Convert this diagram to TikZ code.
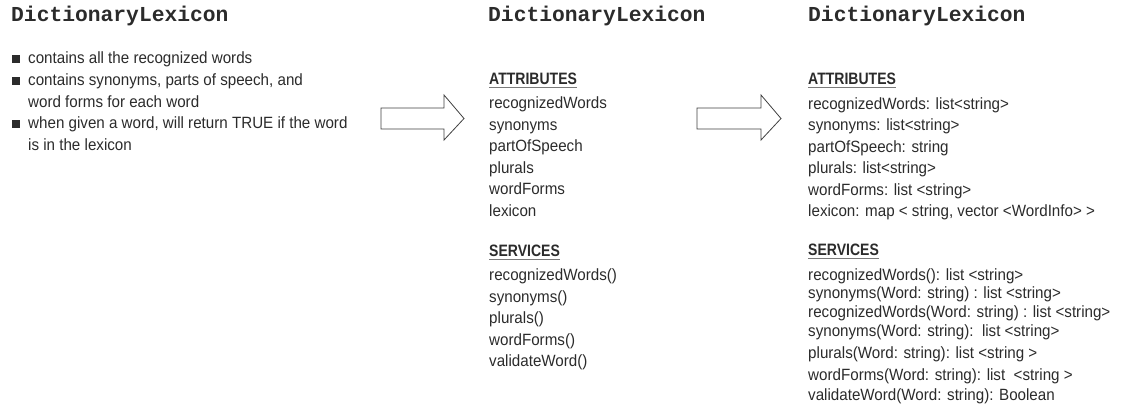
\documentclass[tikz,border=0pt]{standalone}
\usepackage{fontspec}
\setmainfont{Liberation Sans}[FakeStretch=0.93]
\newfontfamily\titlefont{Liberation Mono}
\newfontfamily\hdrfont{Liberation Sans}[FakeStretch=0.85]
\definecolor{ink}{HTML}{2B2B2B}
\definecolor{rulegray}{HTML}{7A7A7A}
\begin{document}
\begin{tikzpicture}[x=1pt,y=-1pt,
  txt/.style={anchor=base west, inner sep=0pt, text=ink, font=\fontsize{16.3}{18}\selectfont},
  ttl/.style={anchor=base west, inner sep=0pt, text=ink, font=\titlefont\bfseries\fontsize{21.3}{24}\selectfont},
  hdr/.style={anchor=base west, inner sep=0pt, text=ink, font=\hdrfont\bfseries\fontsize{16.5}{18}\selectfont},
  uline/.style={draw=rulegray, line width=1.5pt},
  bulletbox/.style={fill=ink, inner sep=0pt, minimum size=8pt, anchor=south west},
  blockarrow/.style={draw=ink!90, line width=0.8pt, fill=white, line join=miter}
]
\useasboundingbox (0,0) rectangle (1131,412);

% ---------- left column ----------
\node[ttl] (t1) at (11,22) {DictionaryLexicon};
\node[bulletbox] (b1) at (12,63.5) {};
\node[txt] (l1) at (28,63.5) {contains all the recognized words};
\node[bulletbox] (b2) at (12,85) {};
\node[txt] (l2) at (28,85) {contains synonyms, parts of speech, and};
\node[txt] (l3) at (28,107) {word forms for each word};
\node[bulletbox] (b3) at (12,128.5) {};
\node[txt] (l4) at (28,128.5) {when given a word, will return TRUE if the word};
\node[txt] (l5) at (28,150) {is in the lexicon};

% ---------- arrows ----------
\draw[blockarrow] (381,108) -- (444,108) -- (444,95) -- (464,118.5) -- (444,140) -- (444,129) -- (381,129) -- cycle;
\draw[blockarrow] (697,108) -- (761,108) -- (761,95) -- (781,118.5) -- (761,140) -- (761,129) -- (697,129) -- cycle;

% ---------- middle column ----------
\node[ttl] (t2) at (488,22) {DictionaryLexicon};
\node[hdr] (ma) at (489,84.5) {ATTRIBUTES};
\draw[uline] ([yshift=-3pt]ma.base west) -- ([yshift=-3pt]ma.base east);
\node[txt] (m1) at (489,108.5) {recognizedWords};
\node[txt] (m2) at (489,130) {synonyms};
\node[txt] (m3) at (489,151.5) {partOfSpeech};
\node[txt] (m4) at (489,173) {plurals};
\node[txt] (m5) at (489,194.5) {wordForms};
\node[txt] (m6) at (489,216) {lexicon};
\node[hdr] (ms) at (489,256.5) {SERVICES};
\draw[uline] ([yshift=-3pt]ms.base west) -- ([yshift=-3pt]ms.base east);
\node[txt] (n1) at (489,280.5) {recognizedWords()};
\node[txt] (n2) at (489,302) {synonyms()};
\node[txt] (n3) at (489,323.5) {plurals()};
\node[txt] (n4) at (489,345) {wordForms()};
\node[txt] (n5) at (489,366.5) {validateWord()};

% ---------- right column ----------
\node[ttl] (t3) at (808,22) {DictionaryLexicon};
\node[hdr] (ra) at (808,84.5) {ATTRIBUTES};
\draw[uline] ([yshift=-3pt]ra.base west) -- ([yshift=-3pt]ra.base east);
\node[txt] (r1) at (808,109) {recognizedWords: list<string>};
\node[txt] (r2) at (808,130.5) {synonyms: list<string>};
\node[txt] (r3) at (808,152) {partOfSpeech: string};
\node[txt] (r4) at (808,173.5) {plurals: list<string>};
\node[txt] (r5) at (808,195) {wordForms: list <string>};
\node[txt] (r6) at (808,216.5) {lexicon: map < string, vector <WordInfo> >};
\node[hdr] (rs) at (808,255.5) {SERVICES};
\draw[uline] ([yshift=-3pt]rs.base west) -- ([yshift=-3pt]rs.base east);
\node[txt] (s1) at (808,280) {recognizedWords(): list <string>};
\node[txt] (s2) at (808,298.5) {synonyms(Word: string) : list <string>};
\node[txt] (s3) at (808,317) {recognizedWords(Word: string) : list <string>};
\node[txt] (s4) at (808,336.5) {synonyms(Word: string):\ \ list <string>};
\node[txt] (s5) at (808,358.5) {plurals(Word: string): list <string >};
\node[txt] (s6) at (808,380) {wordForms(Word: string): list\ \ <string >};
\node[txt] (s7) at (808,400) {validateWord(Word: string): Boolean};
\end{tikzpicture}
\end{document}
